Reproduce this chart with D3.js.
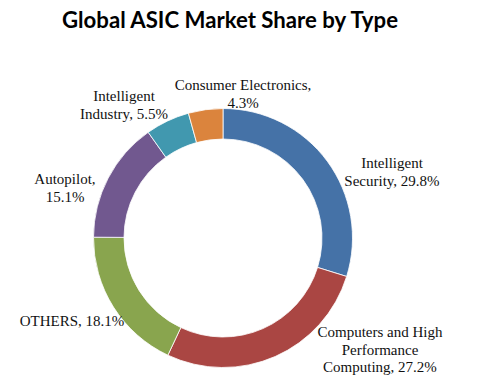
<!DOCTYPE html>
<html>
<head>
<meta charset="utf-8">
<script src="https://cdn.jsdelivr.net/npm/d3@7"></script>
<style>
  html, body { margin: 0; padding: 0; background: #fff; }
  svg { display: block; }
</style>
</head>
<body>
<svg id="chart" width="491" height="388"></svg>
<script>
// ---- data ----
const categories = ["Intelligent Security", "Computers and High Performance Computing", "OTHERS", "Autopilot", "Intelligent Industry", "Consumer Electronics"];
const values = [29.8, 27.2, 18.1, 15.1, 5.5, 4.3];
const labelLines = [
  ["Intelligent", "Security, 29.8%"],
  ["Computers and High", "Performance", "Computing, 27.2%"],
  ["OTHERS, 18.1%"],
  ["Autopilot,", "15.1%"],
  ["Intelligent", "Industry, 5.5%"],
  ["Consumer Electronics,", "4.3%"]
];
const colors = ["#4572A7", "#AA4643", "#89A54E", "#71588F", "#4198AF", "#DB843D"];

// ---- layout ----
const W = 491, H = 388;
const cx = 223, cy = 238, rOuter = 129.5, rInner = 99;
// label anchor (centre x, first baseline y)
const labelPos = [[392, 168], [380, 337], [72, 326], [65, 184], [124, 101], [243, 90]];
const lineH = 17.5;

const svg = d3.select("#chart");

svg.append("text")
  .attr("x", 230).attr("y", 28)
  .attr("text-anchor", "middle")
  .attr("font-family", "Lato, 'Open Sans', sans-serif")
  .attr("font-weight", "bold")
  .attr("font-size", 22)
  .attr("textLength", 336)
  .attr("lengthAdjust", "spacingAndGlyphs")
  .attr("fill", "#000")
  .text("Global ASIC Market Share by Type");

const pie = d3.pie().sort(null).value(d => d)(values);
const arc = d3.arc().innerRadius(rInner).outerRadius(rOuter);

const g = svg.append("g").attr("transform", `translate(${cx},${cy})`);
g.selectAll("path").data(pie).join("path")
  .attr("d", arc)
  .attr("fill", (d, i) => colors[i])
  .attr("stroke", "#ffffff")
  .attr("stroke-width", 0.8);

const labels = svg.append("g")
  .attr("font-family", "'Liberation Serif', 'DejaVu Serif', serif")
  .attr("font-size", 15)
  .attr("fill", "#111");

labelLines.forEach((lines, i) => {
  const t = labels.append("text")
    .attr("text-anchor", "middle")
    .attr("x", labelPos[i][0])
    .attr("y", labelPos[i][1]);
  lines.forEach((ln, j) => {
    t.append("tspan")
      .attr("x", labelPos[i][0])
      .attr("dy", j === 0 ? 0 : lineH)
      .text(ln);
  });
});
</script>
</body>
</html>
